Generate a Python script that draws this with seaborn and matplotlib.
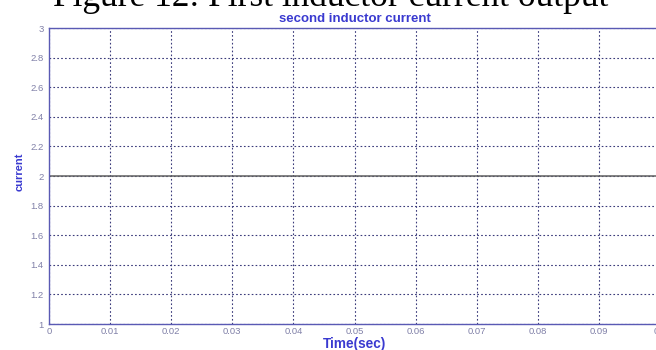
import numpy as np
import pandas as pd
import matplotlib
matplotlib.use("Agg")
import matplotlib.pyplot as plt
import seaborn as sns

# Simulated second inductor current (steady at 2 A over the run)
time_sec = [0.0, 0.1]
current = [2.0, 2.0]
x_ticks = [0, 0.01, 0.02, 0.03, 0.04, 0.05, 0.06, 0.07, 0.08, 0.09, 0.1]
y_ticks = [1, 1.2, 1.4, 1.6, 1.8, 2, 2.2, 2.4, 2.6, 2.8, 3]

df = pd.DataFrame({"Time(sec)": time_sec, "current": current})

sns.set_theme(style="white")
plt.rcParams["font.family"] = ["Liberation Sans", "DejaVu Sans"]

W, H = 656, 350
fig = plt.figure(figsize=(W / 100, H / 100), dpi=100)
fig.patch.set_facecolor("white")

ax_left, ax_right, ax_top, ax_bottom = 49, 660, 28, 324
ax = fig.add_axes([ax_left / W, (H - ax_bottom) / H,
                   (ax_right - ax_left) / W, (ax_bottom - ax_top) / H])
sns.lineplot(data=df, x="Time(sec)", y="current", ax=ax,
             color="#606060", linewidth=1.1)

ax.set_xlim(0, 0.1)
ax.set_ylim(1, 3)
ax.set_xticks(x_ticks)
ax.set_yticks(y_ticks)
ax.set_xticklabels(["0" if v == 0 else f"{v:g}" for v in x_ticks])
ax.set_yticklabels([f"{v:g}" for v in y_ticks])

spine_color = "#5a5ab4"
for s in ax.spines.values():
    s.set_color(spine_color)
    s.set_linewidth(1.0)

ax.grid(True, color="#3a3a7a", linestyle=(0, (1.5, 2)), linewidth=0.8)
ax.set_axisbelow(True)
ax.tick_params(axis="both", direction="in", length=3, width=0.8,
               color=spine_color, labelcolor="#8080a8", labelsize=6.8)
ax.tick_params(axis="x", pad=2)
ax.tick_params(axis="y", pad=4)

ax.set_title("second inductor current", color="#3a3ad0", fontsize=9.5,
             fontweight="bold", pad=4.5)
ax.set_xlabel("Time(sec)", color="#3a3ad0", fontsize=9.8, fontweight="bold",
              labelpad=1)
ax.set_ylabel("current", color="#3a3ad0", fontsize=8, fontweight="bold")
ax.yaxis.set_label_coords((25 - ax_left) / (ax_right - ax_left),
                          (ax_bottom - 172) / (ax_bottom - ax_top))

fig.text(331 / W, 1 - 5.5 / H, "Figure 12: First inductor current output",
         ha="center", va="baseline", fontsize=25.5,
         family=["Liberation Serif", "DejaVu Serif"], color="black")

fig.savefig("out.png", dpi=100)
